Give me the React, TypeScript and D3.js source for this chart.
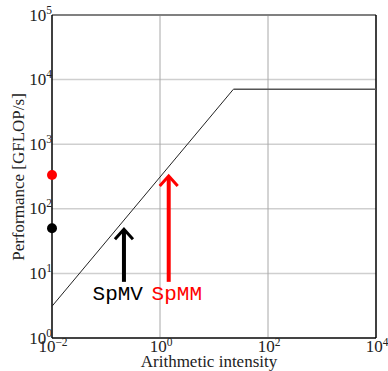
import React from "react";
import * as d3 from "d3";

const xTickExps = [-2, 0, 2, 4];
const yTickExps = [0, 1, 2, 3, 4, 5];
const xGridExps = [0, 2];
const yGridExps = [1, 2, 3, 4];

// Roofline
const bandwidth = 310; // GFLOP/s per unit intensity
const peak = 7100;
const xMin = 0.01;
const xMax = 10000;

// Measured points
const pointNames = ["SpMM", "SpMV"];
const pointValues = [333, 50];
const pointColors = ["#ff0000", "#000000"];

// Arrows
const arrowNames = ["SpMV", "SpMM"];
const arrowX = [0.215, 1.45];
const arrowBottom = [7.4, 7.4];
const arrowTop = [50, 333];
const arrowColors = ["#000000", "#ff0000"];
const labelX = [0.165, 2.05];

export default function App() {
  const W = 388, H = 371;
  const L = 52, R = 376, T = 15, B = 338;
  const x = d3.scaleLog().domain([xMin, xMax]).range([L, R]);
  const y = d3.scaleLog().domain([1, 1e5]).range([B, T]);
  const ridge = peak / bandwidth;
  const roof = [
    [xMin, bandwidth * xMin],
    [ridge, peak],
    [xMax, peak],
  ] as [number, number][];
  const line = d3.line<[number, number]>().x(d => x(d[0])).y(d => y(d[1]));
  const serif = "'Liberation Serif', 'Times New Roman', serif";
  const mono = "'Liberation Mono', 'Courier New', monospace";
  const fs = 17;

  return (
    <svg width={W} height={H} style={{ position: "absolute", left: 0, top: 0 }}>
      <rect x={0} y={0} width={W} height={H} fill="#fff" />
      {yGridExps.map(e => (
        <line key={"yg" + e} x1={L} x2={R} y1={y(10 ** e)} y2={y(10 ** e)} stroke="#cfcfcf" strokeWidth={1.5} />
      ))}
      {xGridExps.map(e => (
        <line key={"xg" + e} x1={x(10 ** e)} x2={x(10 ** e)} y1={T} y2={B} stroke="#a8a8a8" strokeWidth={1} />
      ))}
      {/* spines */}
      <line x1={L} x2={R} y1={T} y2={T} stroke="#808080" strokeWidth={2} />
      <line x1={L} x2={R} y1={B} y2={B} stroke="#444" strokeWidth={2} />
      <line x1={L} x2={L} y1={T} y2={B} stroke="#000" strokeWidth={1.5} />
      <line x1={R} x2={R} y1={T} y2={B} stroke="#000" strokeWidth={1.5} />

      {/* roofline */}
      <path d={line(roof.slice(0, 2)) || ""} fill="none" stroke="#222" strokeWidth={1} />
      <path d={line(roof.slice(1)) || ""} fill="none" stroke="#555" strokeWidth={1.6} />

      {/* arrows */}
      {arrowNames.map((n, i) => {
        const ax = x(arrowX[i]);
        const yb = y(arrowBottom[i]);
        const yt = y(arrowTop[i]);
        return (
          <g key={n} stroke={arrowColors[i]} fill="none">
            <line x1={ax} x2={ax} y1={yb} y2={yt + 2} strokeWidth={4} />
            <path d={`M${ax - 9},${yt + 11}L${ax},${yt + 1}L${ax + 9},${yt + 11}`} strokeWidth={3} strokeLinejoin="miter" />
          </g>
        );
      })}
      {arrowNames.map((n, i) => (
        <text key={"l" + n} x={x(labelX[i])} y={300} textAnchor="middle" fontFamily={mono} fontSize={21} fill={arrowColors[i]}>
          {n}
        </text>
      ))}

      {/* points */}
      {pointNames.map((n, i) => (
        <circle key={"p" + n} cx={L} cy={y(pointValues[i])} r={5} fill={pointColors[i]} />
      ))}

      {/* y tick labels */}
      {yTickExps.map(e => (
        <text key={"yt" + e} x={L} y={y(10 ** e) + 5.5} textAnchor="end" fontFamily={serif} fontSize={fs} fill="#222">
          10<tspan fontSize={11.5} dy={-7}>{e}</tspan>
        </text>
      ))}
      {/* x tick labels */}
      {xTickExps.map(e => (
        <text key={"xt" + e} x={x(10 ** e) + 1} y={B + 13.5} textAnchor="middle" fontFamily={serif} fontSize={fs} fill="#222">
          10<tspan fontSize={11.5} dy={-5.5}>{e < 0 ? "\u2212" + Math.abs(e) : e}</tspan>
        </text>
      ))}

      <text x={(L + R) / 2 - 5} y={367} textAnchor="middle" fontFamily={serif} fontSize={fs} fill="#222">
        Arithmetic intensity
      </text>
      <text transform={`translate(24,${177}) rotate(-90)`} textAnchor="middle" fontFamily={serif} fontSize={fs} fill="#222">
        Performance [GFLOP/s]
      </text>
    </svg>
  );
}
